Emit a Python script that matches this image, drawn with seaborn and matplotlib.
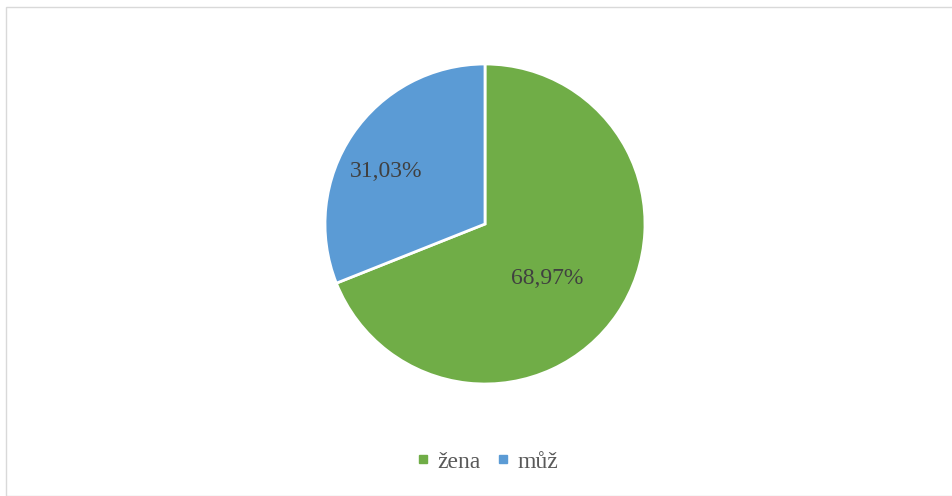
import numpy as np
import matplotlib
matplotlib.use("Agg")
import matplotlib.pyplot as plt
import seaborn as sns
from matplotlib.patches import Rectangle
from matplotlib.lines import Line2D

# data
categories = ["žena", "můž"]
values = [68.97, 31.03]
colors = ["#70AD47", "#5B9BD5"]
# label placement (fraction of radius, angle shift from wedge middle in degrees)
label_dist = [0.52, 0.70]
label_shift = [-7, 6]

sns.set_style("white")
plt.rcParams['font.family'] = ['Liberation Serif', 'DejaVu Serif']

fig = plt.figure(figsize=(9.52, 4.96), dpi=100)
ax = fig.add_axes([325 / 952, 112 / 496, 320 / 952, 320 / 496])

wedges, _ = ax.pie(values, colors=colors, startangle=90, counterclock=False,
                   radius=1, wedgeprops=dict(edgecolor="white", linewidth=2))

for w, v, d, s in zip(wedges, values, label_dist, label_shift):
    mid = np.deg2rad((w.theta1 + w.theta2) / 2 + s)
    ax.text(d * np.cos(mid), d * np.sin(mid), "{:.2f}%".format(v).replace(".", ","),
            ha="center", va="center", fontsize=17, color="#404040")

ax.set_xlim(-1, 1)
ax.set_ylim(-1, 1)
ax.set_aspect("equal")
ax.axis("off")

# legend
handles = [Line2D([0], [0], marker="s", linestyle="", markersize=5.5,
                  markerfacecolor=c, markeredgecolor=c) for c in colors]
fig.legend(handles, categories, loc="center", bbox_to_anchor=(486 / 952, 1 - 462 / 496),
           ncol=2, frameon=False, fontsize=17, labelcolor="#595959",
           handletextpad=0.2, columnspacing=0.55, handlelength=0.8)

# chart border
fig.patches.append(Rectangle((6 / 952, 0), 1, 1 - 7 / 496, transform=fig.transFigure,
                             fill=False, edgecolor="#D9D9D9", linewidth=1))

fig.savefig("out.png", dpi=100)
